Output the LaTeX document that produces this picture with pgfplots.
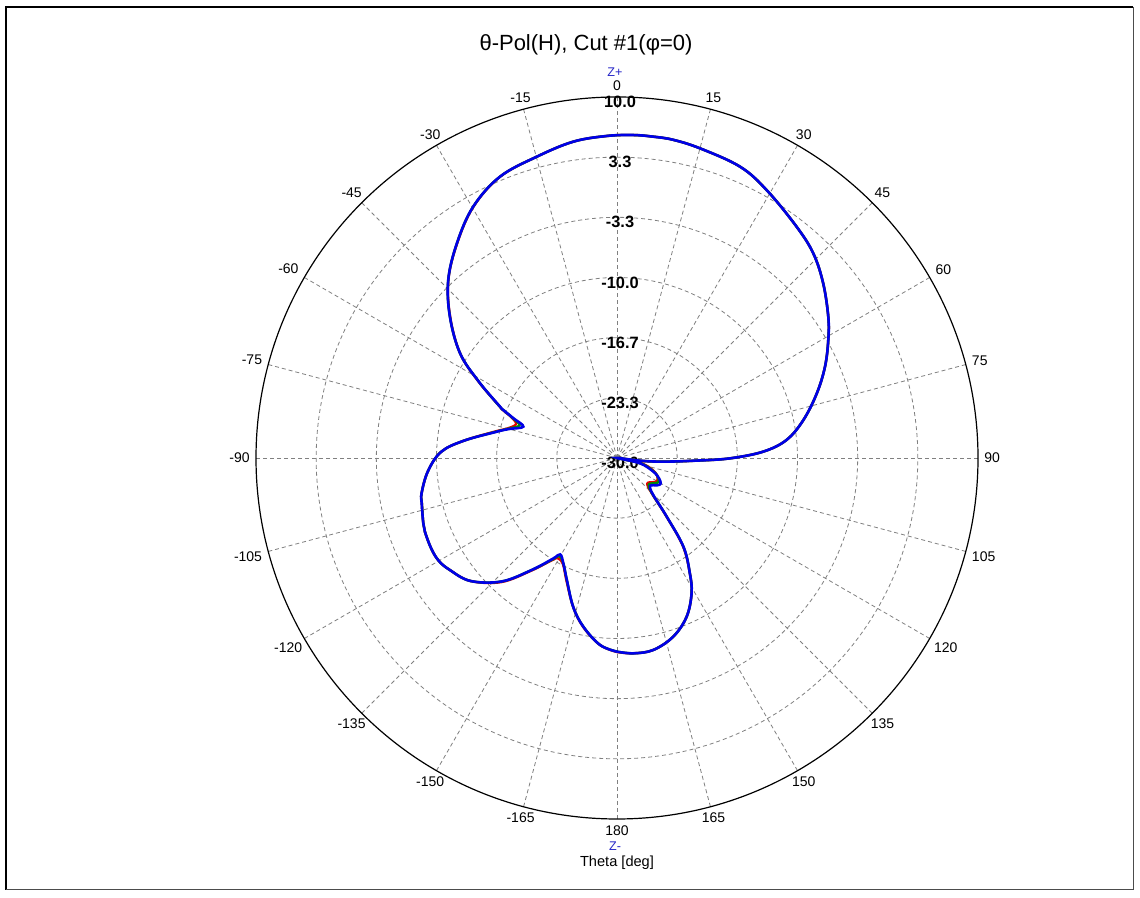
\documentclass[border=0pt]{standalone}
\usepackage{pgfplots}
\pgfplotsset{compat=1.18}
\usepackage{pgfplotstable}
\usepackage{fontspec}
\setmainfont{Liberation Sans}

\pgfplotstableread{
th dB
-180 -8.54
-174.8 -9.2
-168.7 -10.94
-163.6 -12.8
-157.6 -15.4
-153 -16.9
-149.5 -17.6
-147.6 -16.8
-142.7 -14.4
-137 -11.3
-130 -8.8
-123.8 -7.7
-120 -7.2
-116 -7.1
-111 -7.2
-108.6 -7.35
-103.1 -7.78
-100.2 -8.0
-94 -9.0
-88 -10.5
-83.6 -12.9
-77.7 -16.35
-75 -17.6
-71.5 -19.05
-69 -17.7
-67.1 -16.3
-66.3 -15.84
-61 -12.45
-56.3 -9.1
-49.8 -5.76
-43.5 -2.83
-36.7 -0.32
-29.8 2.08
-22.6 3.76
-14.9 4.55
-7.9 5.38
-1.8 5.7
2.9 5.83
6.4 5.83
10 5.8
15 5.52
22.9 5.04
29.2 4.0
37.8 2.45
43.8 1.42
49.7 -0.05
56.2 -1.83
60.8 -3.18
66.3 -4.83
72.1 -6.74
78.5 -8.93
83.9 -11.1
87.5 -13.77
90.2 -17.5
91.9 -21.2
94.5 -24.85
96.7 -27.4
99.5 -30
103 -27.4
110.6 -25.7
116 -24.8
120.5 -24.4
124 -24.6
130.3 -25.2
135.5 -24.3
139.7 -21.5
143.2 -17.7
147.7 -14.9
151.1 -12.9
156.3 -10.8
162.5 -9.25
169.3 -8.35
175.2 -8.28
180 -8.54
}\dataB

\pgfplotstableread{
th dB
-180 -8.5
-174.8 -9.2
-168.7 -10.9
-163.6 -12.8
-157.6 -15.3
-153 -16.8
-149.5 -17.1
-147.6 -16.6
-142.7 -14.3
-137 -11.2
-130 -8.8
-123.8 -7.7
-120 -7.2
-116 -7.1
-111 -7.2
-108.6 -7.35
-103.1 -7.8
-100.2 -8.0
-94 -9.0
-88 -10.5
-83.6 -12.9
-77.7 -16.2
-75 -17.4
-71.5 -18.2
-69 -17.5
-67.1 -16.2
-66.3 -15.8
-61 -12.4
-56.3 -9.1
-49.8 -5.8
-43.5 -2.85
-36.7 -0.35
-29.8 2.05
-22.6 3.75
-14.9 4.55
-7.9 5.38
-1.8 5.7
2.9 5.83
6.4 5.83
10 5.8
15 5.52
22.9 5.04
29.2 4.0
37.8 2.45
43.8 1.42
49.7 -0.05
56.2 -1.83
60.8 -3.18
66.3 -4.83
72.1 -6.74
78.5 -8.93
83.9 -11.1
87.5 -13.77
90.2 -17.5
91.9 -21.2
94.5 -24.8
96.7 -27.2
99.5 -29.5
103 -27.0
110.6 -25.5
116 -25.0
120.5 -24.9
124 -25.2
130.3 -25.6
135.5 -24.5
139.7 -21.6
143.2 -17.8
147.7 -14.9
151.1 -12.9
156.3 -10.8
162.5 -9.25
169.3 -8.35
175.2 -8.28
180 -8.5
}\dataR

\pgfplotstableread{
th dB
-180 -8.55
-174.8 -9.2
-168.7 -10.95
-163.6 -12.8
-157.6 -15.4
-153 -16.9
-149.5 -17.4
-147.6 -16.7
-142.7 -14.4
-137 -11.3
-130 -8.8
-123.8 -7.7
-120 -7.2
-116 -7.1
-111 -7.2
-108.6 -7.35
-103.1 -7.8
-100.2 -8.0
-94 -9.0
-88 -10.5
-83.6 -12.9
-77.7 -16.3
-75 -17.5
-71.5 -18.6
-69 -17.6
-67.1 -16.3
-66.3 -15.8
-61 -12.45
-56.3 -9.1
-49.8 -5.76
-43.5 -2.83
-36.7 -0.32
-29.8 2.08
-22.6 3.76
-14.9 4.55
-7.9 5.38
-1.8 5.7
2.9 5.83
6.4 5.83
10 5.8
15 5.52
22.9 5.04
29.2 4.0
37.8 2.45
43.8 1.42
49.7 -0.05
56.2 -1.83
60.8 -3.18
66.3 -4.83
72.1 -6.74
78.5 -8.93
83.9 -11.1
87.5 -13.77
90.2 -17.5
91.9 -21.2
94.5 -24.85
96.7 -27.3
99.5 -29.8
103 -27.2
110.6 -25.6
116 -24.9
120.5 -24.7
124 -25.0
130.3 -25.4
135.5 -24.4
139.7 -21.5
143.2 -17.7
147.7 -14.9
151.1 -12.9
156.3 -10.8
162.5 -9.25
169.3 -8.35
175.2 -8.28
180 -8.55
}\dataG

\definecolor{gridgray}{RGB}{128,128,128}
\definecolor{zblue}{RGB}{40,40,200}
\definecolor{curveblue}{RGB}{0,0,230}
\definecolor{curvegreen}{RGB}{0,140,0}
\definecolor{curvered}{RGB}{230,0,0}

\begin{document}
\begin{tikzpicture}
\begin{scope}[x=0.5pt,y=0.5pt]
  \fill[white] (0,0) rectangle (1140,898);
  % frame
  \draw[black,line width=1pt] (6,8) -- (6,891) -- (1133,891);
  \draw[black!70,line width=0.5pt] (1133,891) -- (1133,8) -- (6,8);
  % grid circles
  \foreach \r in {60.1667,120.3333,180.5,240.6667,300.8333}
    \draw[gridgray,line width=0.4pt,dash pattern=on 2pt off 1.5pt] (617,440) circle[radius=\r];
  % spokes
  \foreach \a in {0,15,...,345}
    \draw[gridgray,line width=0.4pt,dash pattern=on 2pt off 1.5pt] (617,440) -- ++({90-\a}:361);
  % outer circle
  \draw[black,line width=0.6pt] (617,440) circle[radius=361];
  % angle labels
  \foreach \t [evaluate=\t as \an using {int(270-\t)}, evaluate=\t as \ang using {90-\t}] in {-165,-150,...,180}
    \path (617,440) ++(\ang:365) node[anchor=\an,inner sep=1pt,font=\fontsize{7}{8}\selectfont] {\t};
  % radial labels
  \foreach \r/\lab in {0/-30.0,60.1667/-23.3,120.3333/-16.7,180.5/-10.0,240.6667/-3.3,300.8333/3.3,361/10.0}
    \node[font=\fontsize{8.2}{9}\selectfont\bfseries,inner sep=0pt] at (620,435+\r) {\lab};
  % title and labels
  \node[font=\fontsize{11}{13}\selectfont,inner sep=0pt] at (586,853) {θ-Pol(H), Cut \#1(φ=0)};
  \node[font=\fontsize{6.3}{7}\selectfont,text=zblue,inner sep=0pt] at (615,826) {Z+};
  \node[font=\fontsize{6.3}{7}\selectfont,text=zblue,inner sep=0pt] at (615,52) {Z-};
  \node[font=\fontsize{7.3}{8}\selectfont,inner sep=0pt] at (617,35) {Theta [deg]};
\end{scope}
\begin{axis}[at={(0,0)},anchor=south west,scale only axis,width=570pt,height=449pt,
  xmin=0,xmax=1140,ymin=0,ymax=898,hide axis,clip=false]
\addplot[curvered,line width=1.2pt,smooth,tension=0.6] table[x expr={617+9.025*max(\thisrow{dB}+30,0)*sin(\thisrow{th})},y expr={440+9.025*max(\thisrow{dB}+30,0)*cos(\thisrow{th})}]{\dataR};
\addplot[curvegreen,line width=1.2pt,smooth,tension=0.6] table[x expr={617+9.025*max(\thisrow{dB}+30,0)*sin(\thisrow{th})},y expr={440+9.025*max(\thisrow{dB}+30,0)*cos(\thisrow{th})}]{\dataG};
\addplot[curveblue,line width=1.3pt,smooth,tension=0.6] table[x expr={617+9.025*max(\thisrow{dB}+30,0)*sin(\thisrow{th})},y expr={440+9.025*max(\thisrow{dB}+30,0)*cos(\thisrow{th})}]{\dataB};
\end{axis}
\end{tikzpicture}
\end{document}
